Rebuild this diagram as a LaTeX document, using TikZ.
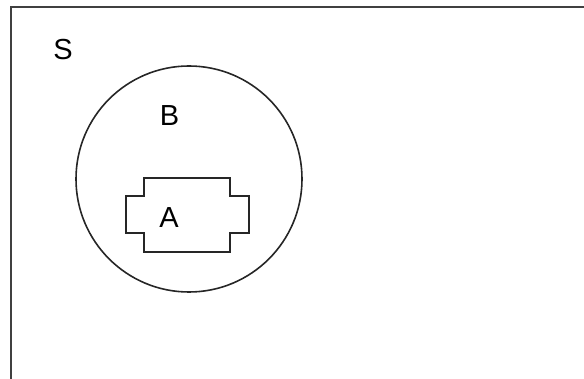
\documentclass[tikz,border=0pt]{standalone}
\usepackage{fontspec}
\setmainfont{Liberation Sans}
\usetikzlibrary{positioning}

\tikzset{
  setlabel/.style={font=\fontsize{29}{31}\selectfont,inner sep=0pt},
  setline/.style={draw=black!85,line width=1.6pt}
}

\begin{document}
\begin{tikzpicture}[x=1pt,y=-1pt]
\useasboundingbox (0,0) rectangle (584,379);
\clip (0,0) rectangle (584,379);
% universe
\draw[black!75,line width=2.2pt] (11,7) rectangle (620,420);
\node[setlabel] (S) at (63,49.5) {S};
% set B
\node[setline,circle,minimum size=226pt,inner sep=0pt] (setB) at (189,179) {};
\node[setlabel] (B) at (169.5,115.5) {B};
% set A
\draw[setline] (144,178) -- (230,178) -- (230,196) -- (249,196) -- (249,233)
  -- (230,233) -- (230,252) -- (144,252) -- (144,233) -- (126,233)
  -- (126,196) -- (144,196) -- cycle;
\node[setlabel] (A) at (169,217.5) {A};
\end{tikzpicture}
\end{document}
